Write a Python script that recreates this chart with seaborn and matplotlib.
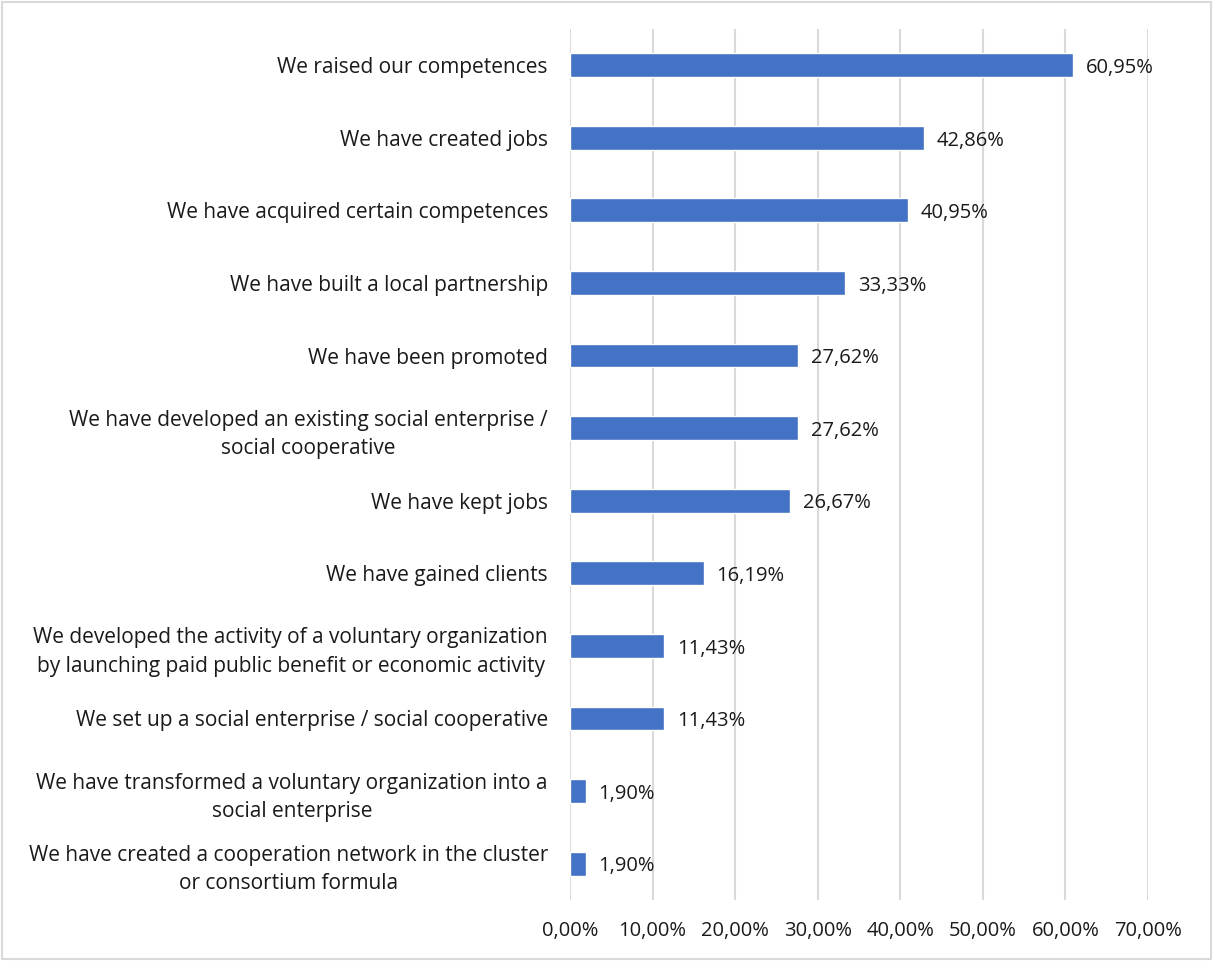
import matplotlib
matplotlib.use("Agg")
import matplotlib.pyplot as plt
import seaborn as sns
import pandas as pd
from matplotlib.patches import Rectangle

categories = [
    "We raised our competences",
    "We have created jobs",
    "We have acquired certain competences",
    "We have built a local partnership",
    "We have been promoted",
    "We have developed an existing social enterprise /\nsocial cooperative",
    "We have kept jobs",
    "We have gained clients",
    "We developed the activity of a voluntary organization\nby launching paid public benefit or economic activity",
    "We set up a social enterprise / social cooperative",
    "We have transformed a voluntary organization into a\nsocial enterprise",
    "We have created a cooperation network in the cluster\nor consortium formula",
]
values = [60.95, 42.86, 40.95, 33.33, 27.62, 27.62, 26.67, 16.19, 11.43, 11.43, 1.90, 1.90]
xticks = [0, 10, 20, 30, 40, 50, 60, 70]

df = pd.DataFrame({"category": categories, "value": values})

sns.set_theme(style="white")
plt.rcParams['font.family'] = ['Open Sans', 'DejaVu Sans']
TEXT = "#1a1a1a"

fig = plt.figure(figsize=(12.13, 9.61), dpi=100)
ax = fig.add_axes([0.470, 0.0635, 0.9464 - 0.470, 0.970 - 0.0635])

sns.barplot(data=df, x="value", y="category", color="#4472C4", saturation=1,
            width=0.33, ax=ax, zorder=3)

ax.set_xlim(0, 70)
ax.set_xticks(xticks)
ax.set_xticklabels([f"{t:.2f}%".replace(".", ",") for t in xticks], fontsize=14.5, color=TEXT)
ax.tick_params(axis="x", length=0, pad=15)
ax.tick_params(axis="y", length=0, pad=16)
for lbl in ax.get_yticklabels():
    lbl.set_fontsize(15)
    lbl.set_color(TEXT)
    lbl.set_multialignment("center")
    lbl.set_linespacing(1.45)
ax.set_xlabel("")
ax.set_ylabel("")
for s in ax.spines.values():
    s.set_visible(False)
ax.xaxis.grid(True, color="#d9d9d9", linewidth=1.5, zorder=0)
ax.yaxis.grid(False)
ax.set_axisbelow(True)

for i, v in enumerate(values):
    ax.annotate(f"{v:.2f}%".replace(".", ","), xy=(v, i), xytext=(9, -2),
                textcoords="offset points", va="center", ha="left",
                fontsize=14.5, color=TEXT)

fig.patches.append(Rectangle((0.002, 0.002), 0.996, 0.996, transform=fig.transFigure,
                             fill=False, edgecolor="#d9d9d9", linewidth=1.5))

fig.savefig("out.png", dpi=100, facecolor="white")
